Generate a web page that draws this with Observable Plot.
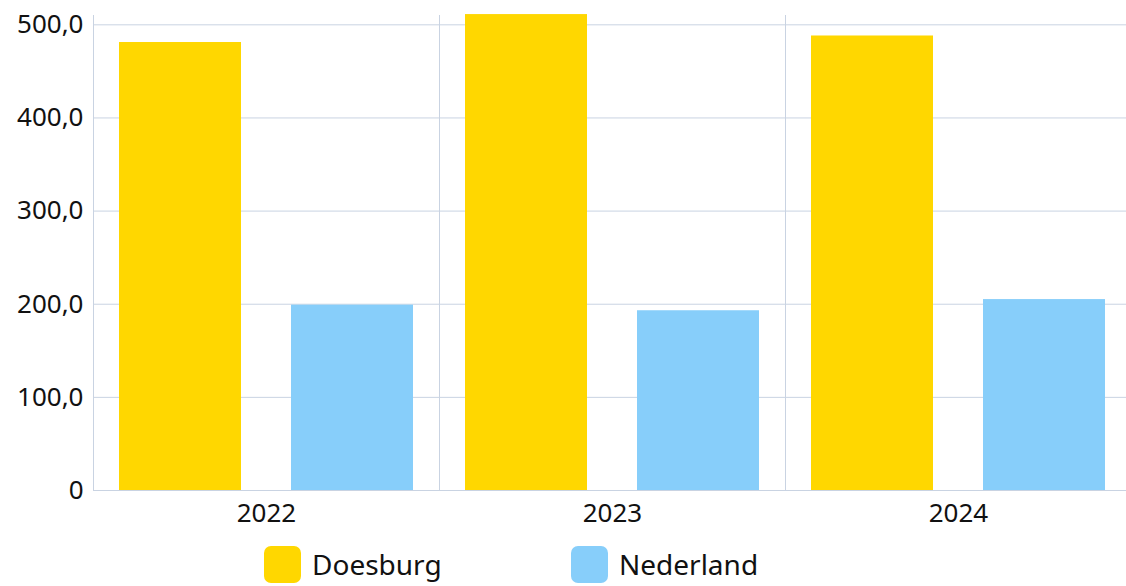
<!DOCTYPE html>
<html>
<head>
<meta charset="utf-8">
<script src="https://cdn.jsdelivr.net/npm/d3@7"></script>
<script src="https://cdn.jsdelivr.net/npm/@observablehq/plot@0.6"></script>
<style>
  html, body { margin: 0; padding: 0; background: #fff; }
  body { font-family: "Noto Sans", sans-serif; width: 1126px; height: 586px; overflow: hidden; }
  #chart { width: 1131px; height: 535px; }
  #legend { position: relative; height: 51px; }
  .item { position: absolute; top: 10px; display: flex; align-items: center; font-size: 28px; color: #111; }
  .sw { width: 37px; height: 37px; border-radius: 7px; margin-right: 11px; }
</style>
</head>
<body>
<div id="chart"></div>
<div id="legend"></div>
<script>
const years = ["2022", "2023", "2024"];
const series = ["Doesburg", "Nederland"];
const doesburg = [481, 511, 488];
const nederland = [199, 193, 205];
const colors = ["#FFD700", "#87CEFA"];
const yTicks = [0, 100, 200, 300, 400, 500];

const data = [];
years.forEach((y, i) => {
  data.push({year: y, series: series[0], value: doesburg[i]});
  data.push({year: y, series: series[1], value: nederland[i]});
});

const fmt = d => d === 0 ? "0" : d.toFixed(1).replace(".", ",");

const chart = Plot.plot({
  width: 1131,
  height: 535,
  marginTop: 15,
  marginBottom: 45,
  marginLeft: 92,
  marginRight: 0,
  style: {fontFamily: "Noto Sans, sans-serif", fontSize: "26px", color: "#111", background: "#fff", overflow: "visible"},
  fx: {domain: years, padding: 0, label: null, axis: "bottom", tickSize: 0, tickPadding: 13},
  x: {domain: series, paddingInner: 0.289, paddingOuter: 0.147, axis: null},
  y: {domain: [0, 510], ticks: yTicks, tickFormat: fmt, label: null, tickSize: 0, tickPadding: 10},
  color: {domain: series, range: colors},
  marks: [
    Plot.gridY(yTicks, {stroke: "#c9d3e2", strokeOpacity: 1}),
    Plot.frame({anchor: "left", stroke: "#c9d3e2", strokeOpacity: 1}),
    Plot.barY(data, {fx: "year", x: "series", y: "value", fill: "series", clip: false}),
    Plot.axisY(yTicks, {tickFormat: fmt, tickSize: 0, tickPadding: 10, label: null, fontSize: 26})
  ]
});
document.getElementById("chart").appendChild(chart);

const legend = document.getElementById("legend");
const lefts = [264, 571];
series.forEach((s, i) => {
  const it = document.createElement("div");
  it.className = "item";
  it.style.left = lefts[i] + "px";
  it.innerHTML = `<div class="sw" style="background:${colors[i]}"></div><span>${s}</span>`;
  legend.appendChild(it);
});
</script>
</body>
</html>
